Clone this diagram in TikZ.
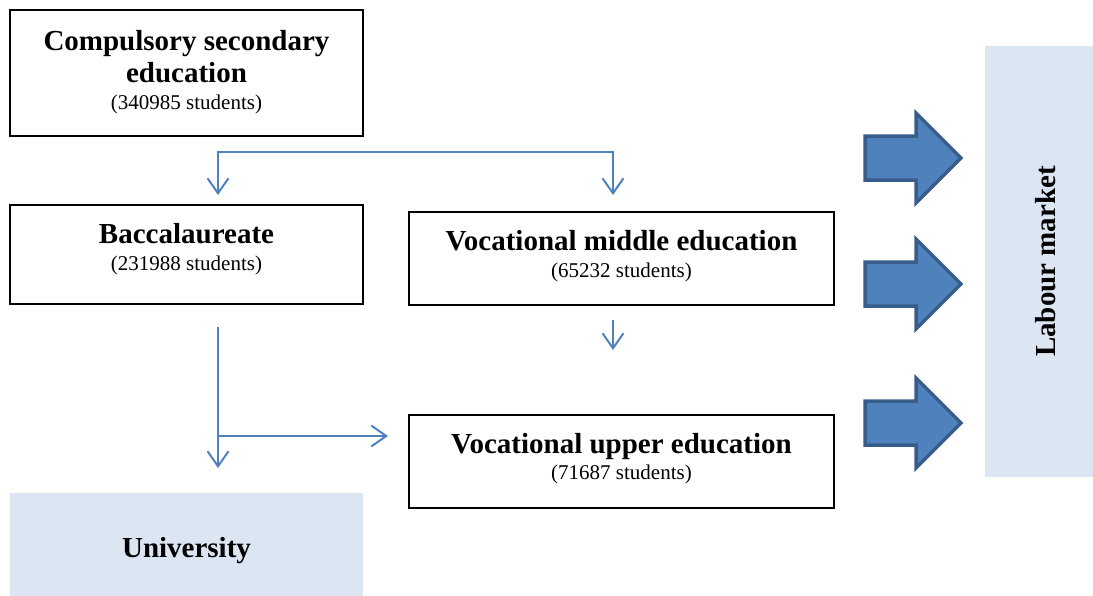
\documentclass[tikz,border=0pt]{standalone}
\usepackage{fontspec}
\setmainfont{Liberation Serif}
\usetikzlibrary{arrows.meta}
\definecolor{lineblue}{HTML}{4F81BD}
\definecolor{darkblue}{HTML}{385D8A}
\definecolor{paleblue}{HTML}{DCE6F2}
\begin{document}
\begin{tikzpicture}[x=1pt,y=-1pt,
  box/.style={draw=black,line width=1.2pt,rectangle,inner sep=0pt},
  pale/.style={fill=paleblue,draw=none,rectangle,inner sep=0pt},
  ttl/.style={font=\fontsize{29}{32}\selectfont\bfseries,align=center,inner sep=0pt},
  sub/.style={font=\fontsize{21}{24}\selectfont,inner sep=0pt},
  conn/.style={draw=lineblue,line width=2pt},
  tip/.style={-{Straight Barb[length=15pt,width=21pt,line width=2pt]}},
  blockarrow/.style={fill=lineblue,draw=darkblue,line width=3.5pt,line join=miter}
]
\useasboundingbox (0,0) rectangle (1093,595);
% boxes
\node[box,minimum width=353pt,minimum height=126pt] (cse) at (186.5,73) {};
\node[ttl,anchor=base] (cset) at (186.5,82) {Compulsory secondary\\education};
\node[sub,anchor=base] (cses) at (186.5,109) {(340985 students)};

\node[box,minimum width=353pt,minimum height=99pt] (bac) at (186.5,254.5) {};
\node[ttl,anchor=base] (bact) at (186.5,243) {Baccalaureate};
\node[sub,anchor=base] (bacs) at (186.5,270) {(231988 students)};

\node[box,minimum width=425pt,minimum height=93pt] (vme) at (621.5,258.5) {};
\node[ttl,anchor=base] (vmet) at (621.5,250) {Vocational middle education};
\node[sub,anchor=base] (vmes) at (621.5,277) {(65232 students)};

\node[box,minimum width=425pt,minimum height=93pt] (vue) at (621.5,461.5) {};
\node[ttl,anchor=base] (vuet) at (621.5,453) {Vocational upper education};
\node[sub,anchor=base] (vues) at (621.5,479) {(71687 students)};

\node[pale,minimum width=353pt,minimum height=105pt] (uni) at (186.5,545) {};
\node[ttl,anchor=base] (unit) at (186.5,557) {University};

\node[pale,minimum width=108pt,minimum height=431pt] (lab) at (1039,261.5) {};
\node[ttl,rotate=90,anchor=base] (labt) at (1055,261.5) {Labour market};

% connectors
\coordinate (j1) at (218,152);
\coordinate (j2) at (613,152);
\coordinate (e1) at (218,195);
\coordinate (e2) at (613,195);
\draw[conn,tip] (j1) -- (j2) -- (e2);
\draw[conn,tip] (j2) -- (j1) -- (e1);
\coordinate (m1) at (613,320);
\coordinate (m2) at (613,350);
\draw[conn,tip] (m1) -- (m2);
\coordinate (b1) at (218,327);
\coordinate (b2) at (218,468);
\coordinate (b3) at (218,436);
\coordinate (b4) at (388,436);
\draw[conn,tip] (b1) -- (b2);
\draw[conn,tip] (b3) -- (b4);

% block arrows
\foreach \c in {158,284,423}{
  \draw[blockarrow] (865,\c-22) -- (916,\c-22) -- (916,\c-45) -- (961,\c) -- (916,\c+45) -- (916,\c+22) -- (865,\c+22) -- cycle;
}
\end{tikzpicture}
\end{document}
